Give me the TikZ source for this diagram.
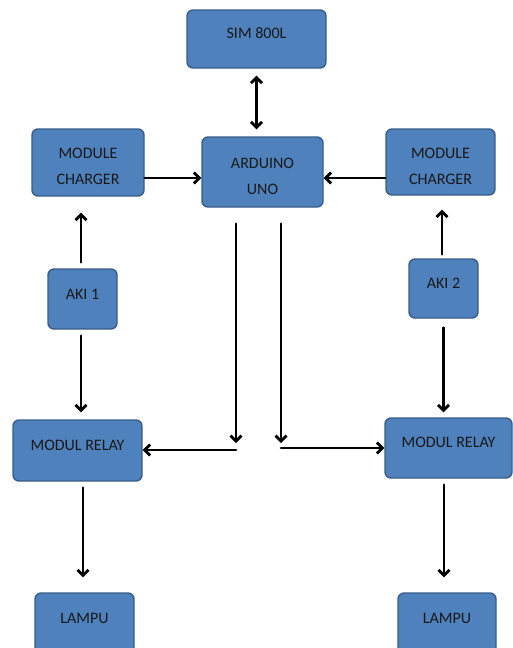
\documentclass[tikz,border=0pt]{standalone}
\usepackage{fontspec}
\setmainfont{Carlito}
\usepackage{tikz}
\usetikzlibrary{arrows.meta}
\definecolor{blokbiru}{rgb}{0.30980392156862746,0.5058823529411764,0.7411764705882353}
\definecolor{tepibiru}{rgb}{0.2196078431372549,0.36470588235294116,0.5411764705882353}
\def \blokfont{\fontsize{16}{26}\selectfont}
\tikzset{blok/.style={draw=tepibiru,line width=1.4pt,fill=blokbiru,rounded corners=6pt,inner sep=0pt,font=\blokfont,text=black!90}}
\begin{document}
\begin{tikzpicture}[line cap=round,line join=round,>={Straight Barb[length=5.5pt,width=11pt]},x=1pt,y=-1pt]
\clip (0,0) rectangle (513,648);
\useasboundingbox (0,0) rectangle (513,648);
\node[blok,minimum width=139pt,minimum height=58pt,text height=28pt,text depth=30pt] (sim) at (256.5,39) {SIM 800L};
\node[blok,align=center,minimum width=121pt,minimum height=70pt,text height=57pt,text depth=13pt] (uno) at (262.5,172) {ARDUINO\\UNO};
\node[blok,align=center,minimum width=112pt,minimum height=67pt,text height=55pt,text depth=12pt] (chgL) at (88,162.5) {MODULE\\CHARGER};
\node[blok,align=center,minimum width=109pt,minimum height=66pt,text height=55pt,text depth=11pt] (chgR) at (440.5,162) {MODULE\\CHARGER};
\node[blok,minimum width=69pt,minimum height=60pt,text height=30pt,text depth=30pt] (aki1) at (82.5,299) {AKI 1};
\node[blok,minimum width=69pt,minimum height=59pt,text height=29pt,text depth=30pt] (aki2) at (443.5,288.5) {AKI 2};
\node[blok,minimum width=129pt,minimum height=61pt,text height=30pt,text depth=31pt] (relayL) at (77.5,450.5) {MODUL RELAY};
\node[blok,minimum width=127pt,minimum height=60pt,text height=29pt,text depth=31pt] (relayR) at (448.5,448) {MODUL RELAY};
\node[blok,minimum width=99pt,minimum height=60pt,text height=30pt,text depth=30pt] (lampL) at (84.5,623) {LAMPU};
\node[blok,minimum width=98pt,minimum height=60pt,text height=30pt,text depth=30pt] (lampR) at (447,623) {LAMPU};
\coordinate (kiri) at (236,443);
\coordinate (kiri2) at (236,450);
\coordinate (kanan) at (281,443);
\coordinate (kanan2) at (281,448);
\draw [<->,line width=2.8pt,shorten <=7pt,shorten >=7pt] (sim.south) -- (sim.south |- uno.north);
\draw [->,line width=2.8pt] ([yshift=-15.5pt]chgL.east) -- ([yshift=-15.5pt]chgL.east -| uno.west);
\draw [->,line width=2.8pt] ([yshift=-16pt]chgR.west) -- ([yshift=-16pt]chgR.west -| uno.east);
\draw [->,line width=2.8pt,shorten <=6pt,shorten >=16pt] ([xshift=-1.5pt]aki1.north) -- ([xshift=-1.5pt]aki1.north |- chgL.south);
\draw [->,line width=2.8pt,shorten <=6pt,shorten >=7pt] ([xshift=-1.5pt]aki1.south) -- ([xshift=-1.5pt]aki1.south |- relayL.north);
\draw [->,line width=2.8pt,shorten <=4pt,shorten >=14pt] ([xshift=-1.5pt]aki2.north) -- ([xshift=-1.5pt]aki2.north |- chgR.south);
\draw [->,line width=2.8pt,shorten <=9pt,shorten >=5pt] (aki2.south) -- (aki2.south |- relayR.north);
\draw [->,line width=2.8pt,shorten <=16pt] (uno.south -| kiri) -- (kiri);
\draw [->,line width=2.8pt] (kiri2) -- (kiri2 -| relayL.east);
\draw [->,line width=2.8pt,shorten <=16pt] (uno.south -| kanan) -- (kanan);
\draw [->,line width=2.8pt] (kanan2) -- (kanan2 -| relayR.west);
\draw [->,line width=2.8pt,shorten <=6pt,shorten >=15pt] ([xshift=-1.5pt]lampL.north |- relayL.south) -- ([xshift=-1.5pt]lampL.north);
\draw [->,line width=2.8pt,shorten <=6pt,shorten >=15pt] ([xshift=-3pt]lampR.north |- relayR.south) -- ([xshift=-3pt]lampR.north);
\end{tikzpicture}
\end{document}
